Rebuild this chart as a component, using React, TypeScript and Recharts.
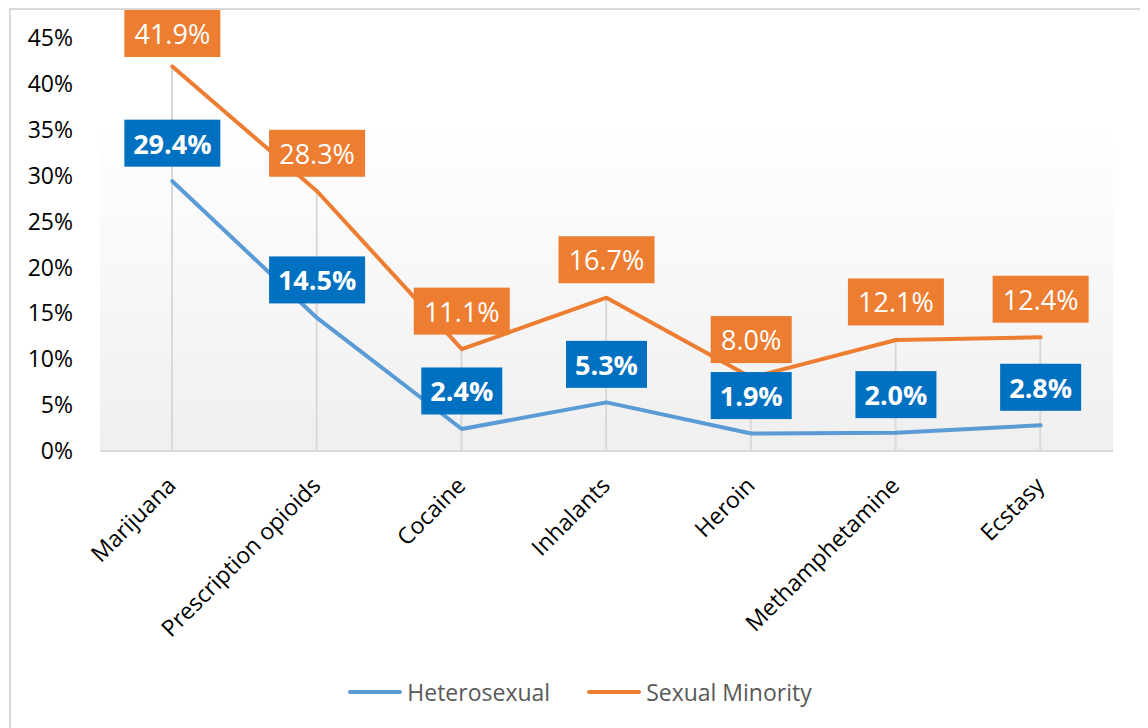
import React from 'react';
import { ComposedChart, Line, Bar, XAxis, YAxis, CartesianGrid, Legend, LabelList } from 'recharts';

const categories = ['Marijuana', 'Prescription opioids', 'Cocaine', 'Inhalants', 'Heroin', 'Methamphetamine', 'Ecstasy'];
const heterosexual = [29.4, 14.5, 2.4, 5.3, 1.9, 2.0, 2.8];
const sexualMinority = [41.9, 28.3, 11.1, 16.7, 8.0, 12.1, 12.4];
const yTicks = [0, 5, 10, 15, 20, 25, 30, 35, 40, 45];

const BLUE_LINE = '#5B9BD5';
const BLUE_BOX = '#0070C0';
const ORANGE = '#ED7D31';
const FONT = "'Open Sans', sans-serif";

// drop lines go from the highest point of each category down to the axis
const data = categories.map((name, i) => ({
  name,
  heterosexual: heterosexual[i],
  sexualMinority: sexualMinority[i],
  drop: Math.max(heterosexual[i], sexualMinority[i]),
}));

const legendItems = [
  { label: 'Heterosexual', color: BLUE_LINE },
  { label: 'Sexual Minority', color: ORANGE },
];

const makeLabel = (fill: string, bold: boolean) => (props: any) => {
  const { x, y, value } = props;
  const text = `${Number(value).toFixed(1)}%`;
  const w = text.length * 15 + 21;
  const h = 47;
  const cy = Math.max(y - 38, 23.5);
  return (
    <g>
      <rect x={x - w / 2} y={cy - h / 2} width={w} height={h} fill={fill} />
      <text x={x} y={cy} dominantBaseline="central" textAnchor="middle" fill="#fff" fontSize={27} fontWeight={bold ? 700 : 400} fontFamily={FONT}>
        {text}
      </text>
    </g>
  );
};

const CategoryTick = (props: any) => {
  const { x, y, payload } = props;
  const tx = x + 5;
  const ty = y + 36;
  return (
    <text x={tx} y={ty} textAnchor="end" transform={`rotate(-45, ${tx}, ${ty})`} fontSize={23} fill="#000" fontFamily={FONT}>
      {payload.value}
    </text>
  );
};

const renderLegend = () => (
  <div style={{ display: 'flex', justifyContent: 'center', alignItems: 'center', height: 40, paddingLeft: 9, fontFamily: FONT }}>
    {legendItems.map((item, i) => (
      <div key={item.label} style={{ display: 'flex', alignItems: 'center', marginLeft: i === 0 ? 0 : 37 }}>
        <span style={{ display: 'inline-block', width: 54, height: 4, borderRadius: 2, background: item.color, marginRight: 5 }} />
        <span style={{ fontSize: 23, color: '#595959' }}>{item.label}</span>
      </div>
    ))}
  </div>
);

export default function App() {
  return (
    <div style={{ marginLeft: 1, width: 1129, height: 720, border: '2px solid #d9d9d9', background: '#fff', fontFamily: FONT }}>
      <ComposedChart width={1129} height={720} data={data} margin={{ top: 28, right: 27, left: 0, bottom: 18 }}>
        <defs>
          <linearGradient id="plotBg" x1="0" y1="0" x2="0" y2="1">
            <stop offset="0" stopColor="#ffffff" />
            <stop offset="0.2" stopColor="#ffffff" />
            <stop offset="1" stopColor="#efefef" />
          </linearGradient>
        </defs>
        <CartesianGrid horizontal={false} vertical={false} fill="url(#plotBg)" />
        <XAxis
          dataKey="name"
          interval={0}
          height={221}
          tickLine={false}
          tickSize={0}
          tickMargin={0}
          axisLine={{ stroke: '#d9d9d9', strokeWidth: 2 }}
          tick={<CategoryTick />}
        />
        <YAxis
          domain={[0, 45]}
          ticks={yTicks}
          width={89}
          axisLine={false}
          tickLine={false}
          tickSize={0}
          tickMargin={27}
          tickFormatter={(v: number) => `${v}%`}
          tick={{ fontSize: 23, fill: '#000', fontFamily: FONT }}
        />
        <Legend verticalAlign="bottom" height={40} wrapperStyle={{ left: 0, width: 1129 }} content={renderLegend} />
        <Bar dataKey="drop" barSize={2} fill="#d9d9d9" isAnimationActive={false} legendType="none" />
        <Line
          dataKey="sexualMinority"
          name="Sexual Minority"
          stroke={ORANGE}
          strokeWidth={4}
          strokeLinecap="round"
          strokeLinejoin="round"
          dot={false}
          activeDot={false}
          isAnimationActive={false}
        >
          <LabelList dataKey="sexualMinority" content={makeLabel(ORANGE, false)} />
        </Line>
        <Line
          dataKey="heterosexual"
          name="Heterosexual"
          stroke={BLUE_LINE}
          strokeWidth={4}
          strokeLinecap="round"
          strokeLinejoin="round"
          dot={false}
          activeDot={false}
          isAnimationActive={false}
        >
          <LabelList dataKey="heterosexual" content={makeLabel(BLUE_BOX, true)} />
        </Line>
      </ComposedChart>
    </div>
  );
}
